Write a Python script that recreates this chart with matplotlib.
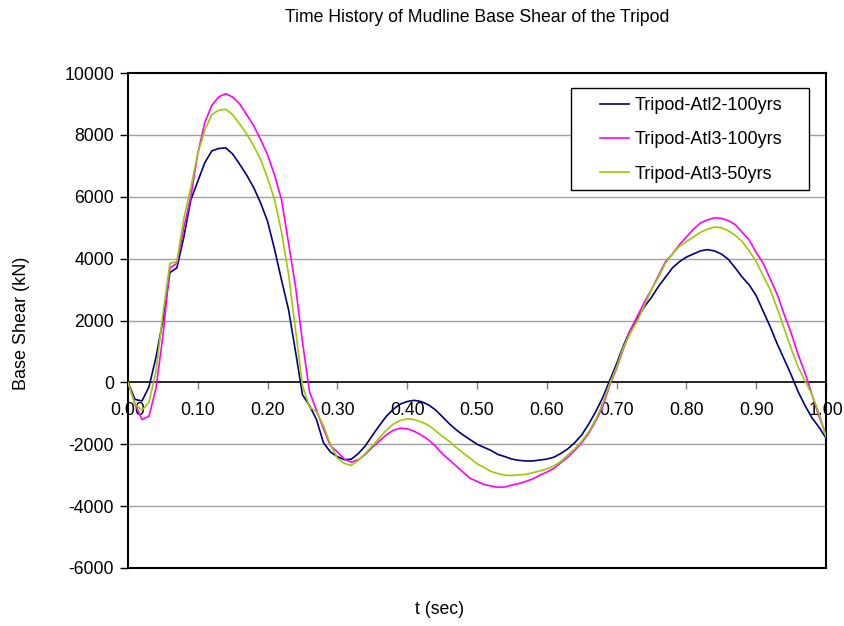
import numpy as np
import matplotlib
matplotlib.use("Agg")
import matplotlib.pyplot as plt
from matplotlib.patches import Rectangle

plt.rcParams['font.family'] = ['Liberation Sans', 'DejaVu Sans']

# sample times (sec), 0.01 step
t = np.round(np.arange(0, 101) * 0.01, 2)

atl2_100 = [
    0, -550, -600, -150, 800, 2000, 3550, 3700, 4700, 5900,
    6500, 7100, 7480, 7560, 7580, 7380, 7050, 6700, 6300, 5800,
    5200, 4300, 3300, 2350, 1000, -400, -750, -1200, -1950, -2250,
    -2400, -2500, -2480, -2300, -2050, -1720, -1400, -1100, -870, -700,
    -620, -580, -620, -720, -880, -1100, -1330, -1530, -1700, -1850,
    -2000, -2100, -2200, -2330, -2400, -2480, -2520, -2540, -2540, -2510,
    -2480, -2420, -2300, -2150, -1950, -1700, -1350, -950, -500, 50,
    600, 1200, 1700, 2100, 2450, 2750, 3100, 3400, 3700, 3900,
    4050, 4150, 4250, 4290, 4250, 4150, 3980, 3700, 3400, 3150,
    2800, 2300, 1800, 1250, 750, 250, -300, -750, -1150, -1450,
    -1800,
]

atl3_100 = [
    0, -700, -1200, -1100, -200, 1500, 3700, 3850, 5000, 6000,
    7400, 8400, 8950, 9230, 9330, 9220, 9000, 8650, 8300, 7850,
    7350, 6700, 5900, 4500, 3100, 1300, -300, -900, -1500, -2050,
    -2250, -2480, -2580, -2500, -2330, -2100, -1900, -1700, -1550, -1480,
    -1500, -1580, -1700, -1850, -2050, -2300, -2500, -2700, -2900, -3100,
    -3200, -3300, -3350, -3390, -3380, -3320, -3270, -3200, -3120, -3000,
    -2900, -2780, -2600, -2420, -2200, -1950, -1650, -1250, -800, -100,
    450, 1100, 1700, 2150, 2600, 3000, 3450, 3900, 4150, 4450,
    4700, 4950, 5150, 5250, 5320, 5300, 5230, 5100, 4850, 4600,
    4200, 3850, 3350, 2850, 2200, 1600, 900, 300, -400, -1100,
    -1700,
]

atl3_50 = [
    0, -700, -900, -650, 350, 2200, 3850, 3900, 5300, 6300,
    7400, 8150, 8650, 8800, 8830, 8650, 8350, 8030, 7650, 7200,
    6600, 5900, 4850, 3500, 1700, -100, -800, -950, -1400, -2000,
    -2450, -2620, -2680, -2520, -2300, -2050, -1800, -1550, -1350, -1230,
    -1180, -1200, -1280, -1380, -1550, -1740, -1900, -2100, -2280, -2450,
    -2630, -2750, -2880, -2950, -3000, -3010, -2990, -2970, -2920, -2860,
    -2800, -2700, -2560, -2350, -2150, -1900, -1600, -1200, -700, -50,
    500, 1150, 1600, 2000, 2500, 3000, 3400, 3850, 4150, 4400,
    4550, 4700, 4850, 4950, 5020, 5000, 4900, 4750, 4550, 4250,
    3900, 3450, 3000, 2400, 1750, 1100, 500, 50, -400, -1000,
    -1750,
]

series_names = ['Tripod-Atl2-100yrs', 'Tripod-Atl3-100yrs', 'Tripod-Atl3-50yrs']
series_colors = ['#000080', '#FF00FF', '#99CC00']
x_ticks = np.round(np.arange(0, 11) * 0.1, 2)
y_ticks = np.arange(-6000, 10001, 2000)

W, H = 845, 626
fig = plt.figure(figsize=(W / 100, H / 100), dpi=100)
L, R, T, B = 128, 826, 73, 568
ax = fig.add_axes([L / W, 1 - B / H, (R - L) / W, (B - T) / H])


def ax_xy(px, py):
    # pixel position -> axes fraction
    return (px - L) / (R - L), (B - py) / (B - T)


# gridlines (zero line is the x axis)
for yv in y_ticks:
    if yv not in (0, -6000, 10000):
        ax.axhline(yv, color='#a0a0a0', lw=1.0, zorder=1)

for vals, name, col in zip([atl2_100, atl3_100, atl3_50], series_names, series_colors):
    ax.plot(t, vals, color=col, lw=1.2, label=name, zorder=3)

ax.set_xlim(0, 1.0)
ax.set_ylim(-6000, 10000)

ax.set_yticks(y_ticks)
ax.set_yticklabels([str(v) for v in y_ticks])
ax.set_xticks(x_ticks)
ax.set_xticklabels([f"{v:.2f}" for v in x_ticks])

# x axis sits on the zero line
ax.spines['bottom'].set_position(('data', 0))
ax.spines['bottom'].set_linewidth(1.2)
for s in ('left', 'top', 'right'):
    ax.spines[s].set_linewidth(1.5)
ax.axhline(-6000, color='black', lw=1.5, clip_on=False, zorder=4)

ax.tick_params(axis='y', direction='out', length=6, width=1, pad=4, labelsize=12.7)
ax.tick_params(axis='x', direction='out', length=5, width=1, pad=9, labelsize=12.7,
               color='#808080')

# legend box drawn separately so its size matches
x0, y0 = ax_xy(571, 190)
x1, y1 = ax_xy(809, 88)
ax.add_patch(Rectangle((x0, y0), x1 - x0, y1 - y0, transform=ax.transAxes,
                       facecolor='white', edgecolor='black', lw=1.0, zorder=5))
lx, ly = ax_xy(600, 140)
ax.legend(loc='center left', bbox_to_anchor=(lx, ly), frameon=False, fontsize=13,
          handlelength=1.6, handletextpad=0.3, labelspacing=0.95,
          borderpad=0, borderaxespad=0).set_zorder(6)

fig.text(477 / W, 1 - 18 / H, 'Time History of Mudline Base Shear of the Tripod',
         ha='center', va='center', fontsize=12.7)
fig.text(440 / W, 1 - 610 / H, 't (sec)', ha='center', va='center', fontsize=12.7)
fig.text(22 / W, 1 - 323 / H, 'Base Shear (kN)', ha='center', va='center',
         rotation=90, fontsize=13)

fig.savefig('out.png', dpi=100)
